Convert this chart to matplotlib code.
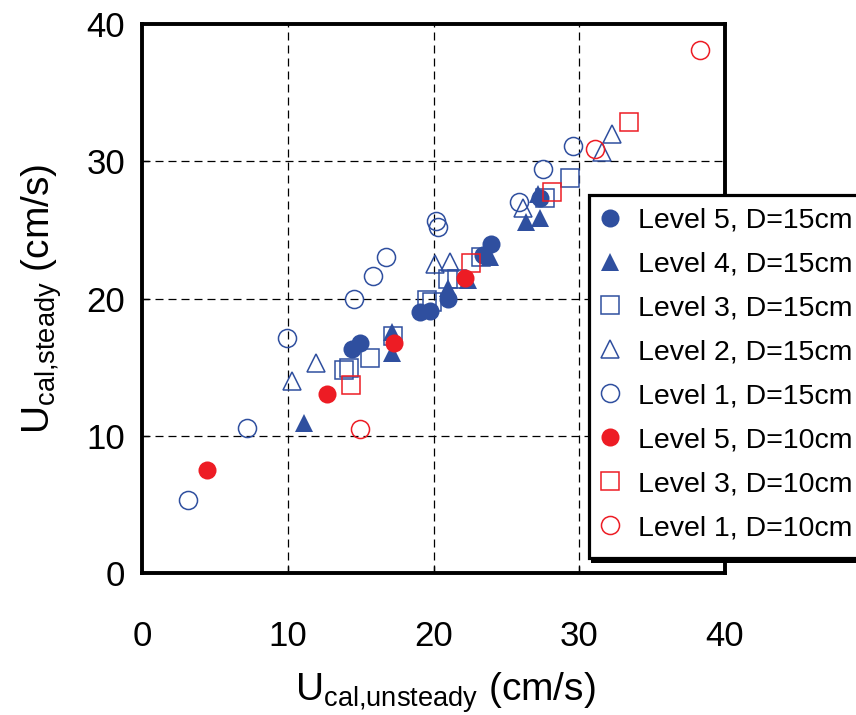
import matplotlib
matplotlib.use("Agg")
import matplotlib.pyplot as plt
from matplotlib.patches import Rectangle

plt.rcParams['font.family'] = ['Liberation Sans', 'DejaVu Sans']
plt.rcParams['mathtext.fontset'] = 'custom'
plt.rcParams['mathtext.rm'] = 'Liberation Sans'
plt.rcParams['mathtext.it'] = 'Liberation Sans'

BLUE = '#2f4f9f'
RED = '#ed1c24'

# Level 5, D=15cm
l5_15_x = [14.39, 14.96, 19.07, 19.76, 21.02, 23.42, 23.92, 27.31]
l5_15_y = [16.29, 16.73, 19.03, 19.10, 20.00, 23.20, 23.96, 27.29]
# Level 4, D=15cm
l4_15_x = [11.14, 17.18, 17.18, 21.02, 22.37, 23.88, 26.35, 27.31, 27.20]
l4_15_y = [10.90, 17.58, 16.00, 20.73, 21.34, 23.04, 25.59, 25.83, 27.65]
# Level 3, D=15cm
l3_15_x = [13.86, 14.22, 15.64, 17.25, 19.53, 19.88, 21.00, 21.60, 23.24, 27.65, 29.37]
l3_15_y = [14.80, 14.90, 15.68, 17.25, 19.88, 19.76, 21.40, 21.40, 23.04, 27.29, 28.80]
# Level 2, D=15cm
l2_15_x = [10.27, 11.94, 20.10, 21.13, 26.12, 31.54, 32.22]
l2_15_y = [14.00, 15.27, 22.55, 22.67, 26.56, 30.68, 32.02]
# Level 1, D=15cm
l1_15_x = [3.18, 7.23, 9.93, 14.55, 15.83, 16.74, 20.17, 20.29, 25.89, 27.53, 29.55]
l1_15_y = [5.32, 10.54, 17.14, 19.96, 21.65, 22.99, 25.66, 25.22, 27.04, 29.40, 31.12]
# Level 5, D=10cm
l5_10_x = [4.48, 12.67, 17.31, 22.16]
l5_10_y = [7.50, 13.04, 16.73, 21.46]
# Level 3, D=10cm
l3_10_x = [14.34, 22.55, 28.11, 33.44]
l3_10_y = [13.70, 22.60, 27.73, 32.87]
# Level 1, D=10cm
l1_10_x = [14.96, 31.08, 38.28]
l1_10_y = [10.47, 30.90, 38.09]

series = [
    (l5_15_x, l5_15_y, 'o', BLUE, True, 'Level 5, D=15cm'),
    (l4_15_x, l4_15_y, '^', BLUE, True, 'Level 4, D=15cm'),
    (l3_15_x, l3_15_y, 's', BLUE, False, 'Level 3, D=15cm'),
    (l2_15_x, l2_15_y, '^', BLUE, False, 'Level 2, D=15cm'),
    (l1_15_x, l1_15_y, 'o', BLUE, False, 'Level 1, D=15cm'),
    (l5_10_x, l5_10_y, 'o', RED, True, 'Level 5, D=10cm'),
    (l3_10_x, l3_10_y, 's', RED, False, 'Level 3, D=10cm'),
    (l1_10_x, l1_10_y, 'o', RED, False, 'Level 1, D=10cm'),
]

W, H = 856, 715
fig = plt.figure(figsize=(W / 100, H / 100), dpi=100)
ax = fig.add_axes([142 / W, 1 - 573 / H, (725 - 142) / W, (573 - 24) / H])

for xs, ys, m, c, filled, lab in series:
    ax.plot(xs, ys, linestyle='none', marker=m, ms=13,
            markerfacecolor=c if filled else 'none',
            markeredgecolor=c, markeredgewidth=0 if filled else 1.1,
            label=lab, zorder=3)

ax.set_xlim(0, 40)
ax.set_ylim(0, 40)
ticks = [0, 10, 20, 30, 40]
ax.set_xticks(ticks)
ax.set_yticks(ticks)
ax.tick_params(axis='both', direction='in', length=5, width=1, labelsize=25)
ax.tick_params(axis='x', pad=34)
ax.tick_params(axis='y', pad=12)

for v in [10, 20, 30]:
    ax.axvline(v, color='black', lw=0.9, linestyle=(0, (6.4, 4.0)), zorder=1)
    ax.axhline(v, color='black', lw=0.9, linestyle=(0, (6.4, 4.0)), zorder=1)

for sp in ax.spines.values():
    sp.set_linewidth(2.8)
    sp.set_color('black')

ax.set_xlabel(r'U$_{\mathrm{cal{,}unsteady}}$ (cm/s)', fontsize=28)
ax.xaxis.set_label_coords(0.52, -0.177)
ax.set_ylabel(r'U$_{\mathrm{cal{,}steady}}$ (cm/s)', fontsize=28, labelpad=16)

# legend box with a drop shadow, drawn in figure pixels
shadow = Rectangle((591 / W, 1 - 563 / H), (880 - 591) / W, (563 - 199) / H,
                   transform=fig.transFigure, facecolor='black',
                   edgecolor='none', zorder=4)
box = Rectangle((588.5 / W, 1 - 558 / H), (880 - 588.5) / W, (558 - 194.5) / H,
                transform=fig.transFigure, facecolor='white',
                edgecolor='black', linewidth=2.3, zorder=4.5)
fig.add_artist(shadow)
fig.add_artist(box)

leg = fig.legend(loc='upper left', bbox_to_anchor=(588 / W, 1 - 199 / H),
                 bbox_transform=fig.transFigure, borderaxespad=0,
                 fontsize=20.5, handlelength=0.93, handletextpad=0.52,
                 labelspacing=0.63, borderpad=0.3, frameon=False)
leg.set_zorder(5)

fig.savefig('out.png', dpi=100)
